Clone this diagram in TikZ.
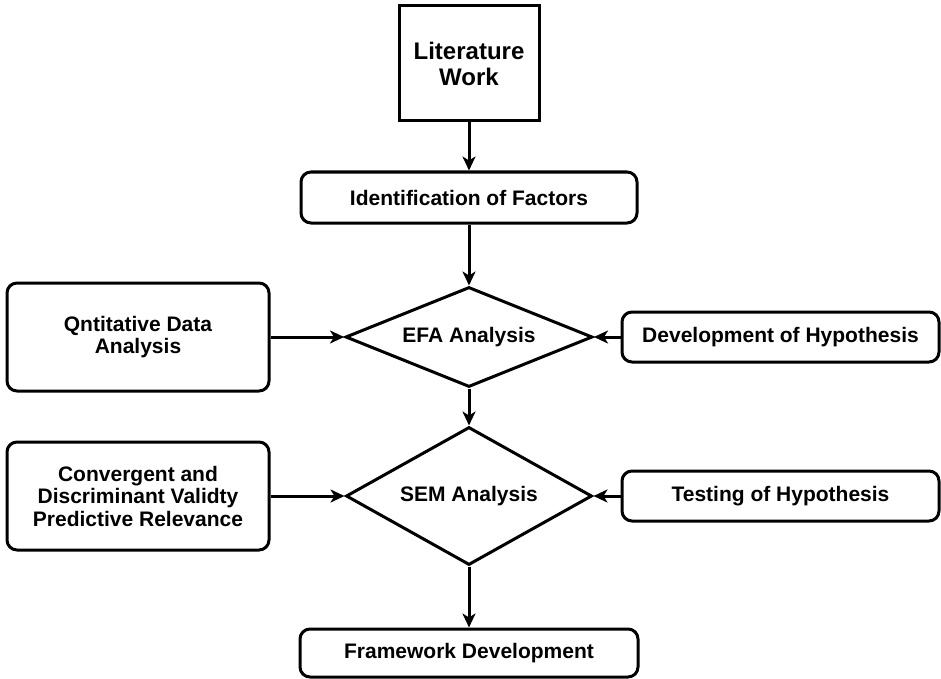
\documentclass[tikz,border=0pt]{standalone}
\usepackage{fontspec}
\setmainfont{Liberation Sans}
\usetikzlibrary{shapes.geometric,arrows.meta}
\tikzset{every node/.style={draw,line width=3pt,inner sep=0pt,align=center,font=\bfseries\fontsize{21}{22.5}\selectfont}}
\tikzset{box/.style={rectangle,rounded corners=10pt}}
\tikzset{dec/.style={diamond}}
\tikzset{flow/.style={line width=3pt,-{Stealth[length=14pt,width=13pt,inset=4pt]}}}

\begin{document}
\begin{tikzpicture}[x=1pt,y=-1pt]
      \useasboundingbox (0,0) rectangle (941,679);
      \node[rectangle,minimum width=140pt,minimum height=115pt,font=\bfseries\fontsize{24}{26}\selectfont] (lit) at (469,63.5) {Literature\\Work};
      \node[box,minimum width=336pt,minimum height=51pt] (ident) at (469,197.5) {Identification of Factors};
      \node[dec,aspect=2.5,minimum width=247pt,minimum height=100pt] (efa) at (469,337) {EFA Analysis};
      \node[dec,aspect=1.8,minimum width=246pt,minimum height=138pt] (sem) at (469,496) {SEM Analysis};
      \node[box,minimum width=338pt,minimum height=48pt] (fw) at (469,653) {Framework Development};
      \node[box,minimum width=262pt,minimum height=108pt] (qnt) at (138,337) {Qntitative Data\\Analysis};
      \node[box,minimum width=262pt,minimum height=108pt] (conv) at (138,496) {Convergent and\\Discriminant Validty\\Predictive Relevance};
      \node[box,minimum width=317pt,minimum height=50pt] (dev) at (780.5,337) {Development of Hypothesis};
      \node[box,minimum width=317pt,minimum height=50pt] (test) at (780.5,496) {Testing of Hypothesis};
        \draw[flow] (lit) -- (ident);
        \draw[flow] (ident) -- (efa);
        \draw[flow] (efa) -- (sem);
        \draw[flow] (sem) -- (fw);
        \draw[flow] (qnt) -- (efa);
        \draw[flow] (dev) -- (efa);
        \draw[flow] (conv) -- (sem);
        \draw[flow] (test) -- (sem);
    \end{tikzpicture}
\end{document}
